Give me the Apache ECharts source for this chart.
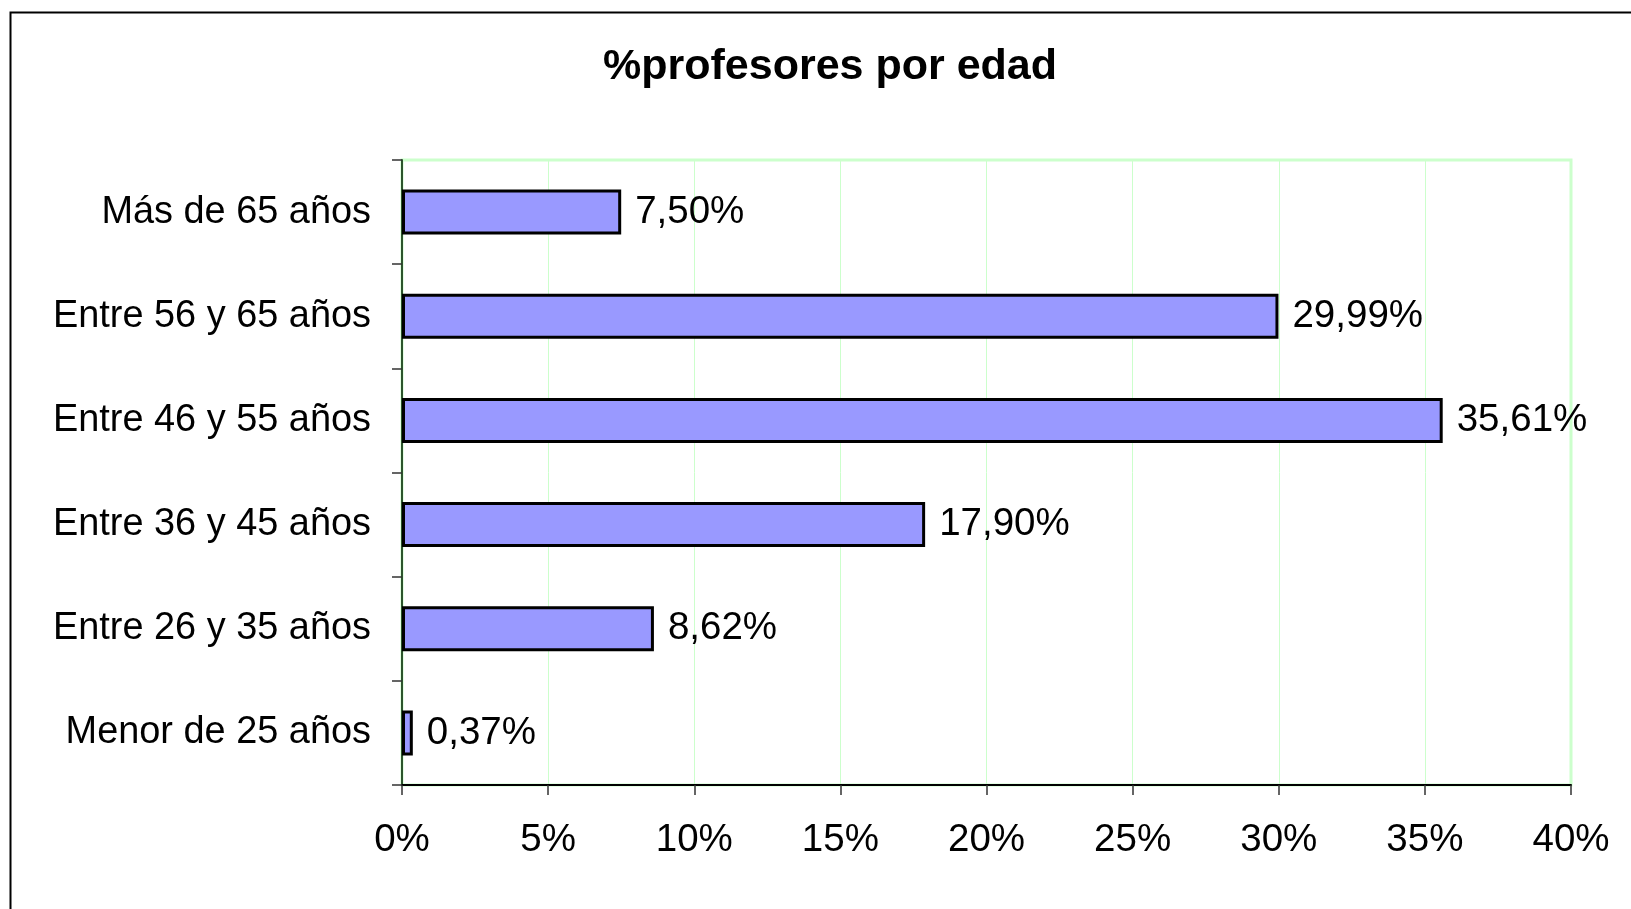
<!DOCTYPE html>
<html>
<head>
<meta charset="utf-8">
<script src="https://cdn.jsdelivr.net/npm/echarts@6/dist/echarts.min.js"></script>
<style>
html,body{margin:0;padding:0;background:#fff;}
#chart{width:1631px;height:909px;}
</style>
</head>
<body>
<div id="chart"></div>
<script>
const titleText = '%profesores por edad';
const categories = ['Menor de 25 años', 'Entre 26 y 35 años', 'Entre 36 y 45 años', 'Entre 46 y 55 años', 'Entre 56 y 65 años', 'Más de 65 años'];
const values = [0.37, 8.62, 17.90, 35.61, 29.99, 7.50];
const xTicks = [0, 5, 10, 15, 20, 25, 30, 35, 40];

const FONT = '"Liberation Sans", Arial, sans-serif';
const chart = echarts.init(document.getElementById('chart'));
chart.setOption({
  animation: false,
  backgroundColor: '#fff',
  title: {
    text: titleText,
    left: 825, top: 41, textAlign: 'center',
    textStyle: { fontFamily: FONT, fontSize: 43, fontWeight: 'bold', color: '#000' }
  },
  graphic: [{
    type: 'rect', shape: { x: 10.5, y: 12.5, width: 1700, height: 1000 },
    style: { fill: 'none', stroke: '#000', lineWidth: 2 }, silent: true, z: 100
  }],
  grid: {
    left: 402, right: 60, top: 160, bottom: 124,
    show: true, borderColor: '#ccffcc', borderWidth: 3, backgroundColor: 'transparent'
  },
  xAxis: {
    type: 'value', min: xTicks[0], max: xTicks[xTicks.length - 1], interval: 5,
    axisLine: { show: true, onZero: false, lineStyle: { color: '#000', width: 2 } },
    axisTick: { show: true, length: 10, lineStyle: { color: '#333', width: 1.5 } },
    splitLine: { show: true, lineStyle: { color: '#ccffcc', width: 1 } },
    axisLabel: {
      margin: 36, fontFamily: FONT, fontSize: 38.5, color: '#000',
      formatter: v => v + '%'
    }
  },
  yAxis: {
    type: 'category', data: categories,
    axisLine: { show: true, lineStyle: { color: '#2d552d', width: 2 } },
    axisTick: { show: true, length: 10, alignWithLabel: false, lineStyle: { color: '#333', width: 1.5 } },
    axisLabel: { margin: 31, fontFamily: FONT, fontSize: 37.9, color: '#000' },
    splitLine: { show: false }
  },
  series: [{
    type: 'bar', data: values, barWidth: 45,
    itemStyle: { color: '#9999ff', borderColor: '#000', borderWidth: 3 },
    label: {
      show: true, position: 'right', distance: 14,
      fontFamily: FONT, fontSize: 38.5, color: '#000',
      formatter: p => p.value.toFixed(2).replace('.', ',') + '%'
    }
  }]
});
</script>
</body>
</html>
